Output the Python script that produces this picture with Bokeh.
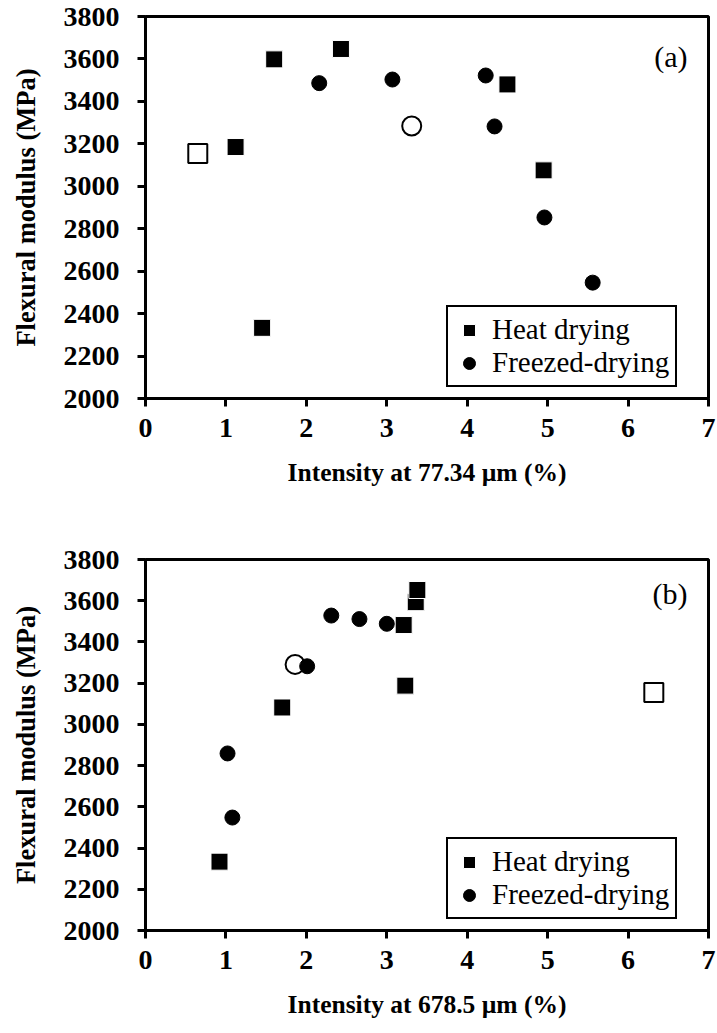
from bokeh.plotting import figure
from bokeh.models import Range1d, FixedTicker, Legend, LegendItem, Label, Column
from bokeh.embed import file_html
from bokeh.resources import INLINE

# ---------------- data ----------------
x_ticks = [0, 1, 2, 3, 4, 5, 6, 7]
y_ticks = [2000, 2200, 2400, 2600, 2800, 3000, 3200, 3400, 3600, 3800]

# panel (a): intensity at 77.34 um
a_heat_x = [1.12, 1.60, 1.45, 2.43, 4.50, 4.95]
a_heat_y = [3185, 3598, 2333, 3647, 3480, 3075]
a_heat_ref_x = [0.65]
a_heat_ref_y = [3155]
a_freeze_x = [2.16, 3.07, 4.23, 4.34, 4.96, 5.56]
a_freeze_y = [3486, 3503, 3522, 3282, 2853, 2546]
a_freeze_ref_x = [3.31]
a_freeze_ref_y = [3284]

# panel (b): intensity at 678.5 um
b_heat_x = [0.92, 1.70, 3.21, 3.36, 3.38, 3.23]
b_heat_y = [2334, 3082, 3482, 3593, 3652, 3188]
b_heat_ref_x = [6.32]
b_heat_ref_y = [3155]
b_freeze_x = [1.02, 1.08, 2.01, 2.31, 2.66, 3.00]
b_freeze_y = [2859, 2548, 3282, 3528, 3511, 3488]
b_freeze_ref_x = [1.86]
b_freeze_ref_y = [3291]

SERIF = "'Liberation Serif', 'Times New Roman', serif"


def make_panel(tag, xlabel, hx, hy, hrx, hry, fx, fy, frx, fry,
               frame_h, top, bottom, tag_y):
    p = figure(width=717, height=top + frame_h + bottom,
               frame_width=563, frame_height=frame_h,
               min_border_left=145, min_border_right=9,
               min_border_top=top, min_border_bottom=bottom,
               x_range=Range1d(0, 7), y_range=Range1d(2000, 3800),
               output_backend="svg", toolbar_location=None,
               background_fill_color="white", border_fill_color="white")
    p.grid.visible = False
    p.outline_line_color = "black"
    p.outline_line_alpha = 1
    p.outline_line_width = 3

    for ax in (p.xaxis, p.yaxis):
        ax.axis_line_width = 3
        ax.major_tick_line_width = 3
        ax.major_tick_in = 0
        ax.major_tick_out = 8
        ax.minor_tick_line_color = None
        ax.major_label_text_font = SERIF
        ax.major_label_text_font_style = "bold"
        ax.major_label_text_font_size = "28px"
        ax.major_label_text_color = "black"
        ax.axis_label_text_font = SERIF
        ax.axis_label_text_font_style = "bold"
        ax.axis_label_text_color = "black"

    p.xaxis.ticker = FixedTicker(ticks=x_ticks)
    p.yaxis.ticker = FixedTicker(ticks=y_ticks)
    p.xaxis.axis_label = xlabel
    p.yaxis.axis_label = "Flexural modulus (MPa)"
    p.xaxis.axis_label_text_font_size = "25.5px"
    p.yaxis.axis_label_text_font_size = "26.5px"
    p.xaxis.major_label_standoff = 12
    p.yaxis.major_label_standoff = 18
    p.xaxis.axis_label_standoff = 18
    p.yaxis.axis_label_standoff = 20

    # open reference markers (drawn first)
    p.scatter(hrx, hry, marker="square", size=19, fill_color="white",
              line_color="black", line_width=2)
    p.scatter(frx, fry, marker="circle", size=19, fill_color="white",
              line_color="black", line_width=2)
    sq = p.scatter(hx, hy, marker="square", size=17, fill_color="black",
                   line_color="white", line_width=1)
    ci = p.scatter(fx, fy, marker="circle", size=15, fill_color="black",
                   line_color="black", line_width=1)

    legend = Legend(items=[LegendItem(label="Heat drying", renderers=[sq]),
                           LegendItem(label="Freezed-drying", renderers=[ci])],
                    location=(301, 11), margin=0)
    legend.label_text_font = SERIF
    legend.label_text_font_size = "29px"
    legend.label_text_color = "black"
    legend.border_line_color = "black"
    legend.border_line_alpha = 1
    legend.border_line_width = 2
    legend.background_fill_color = "white"
    legend.background_fill_alpha = 1
    legend.glyph_width = 30
    legend.glyph_height = 32
    legend.padding = 6
    legend.spacing = 0
    legend.label_standoff = 8
    p.add_layout(legend, "center")

    p.add_layout(Label(x=542, y=tag_y, x_units="screen", y_units="screen",
                       text=tag, text_font=SERIF, text_font_size="30px",
                       text_align="right", text_baseline="middle",
                       text_color="black"))
    return p


p1 = make_panel("(a)", "Intensity at 77.34 µm (%)",
                a_heat_x, a_heat_y, a_heat_ref_x, a_heat_ref_y,
                a_freeze_x, a_freeze_y, a_freeze_ref_x, a_freeze_ref_y,
                frame_h=382, top=16, bottom=102, tag_y=342)
p2 = make_panel("(b)", "Intensity at 678.5 µm (%)",
                b_heat_x, b_heat_y, b_heat_ref_x, b_heat_ref_y,
                b_freeze_x, b_freeze_y, b_freeze_ref_x, b_freeze_ref_y,
                frame_h=371, top=59, bottom=103, tag_y=337)

layout = Column(p1, p2, spacing=0)
open("out.html", "w").write(file_html(layout, INLINE))
